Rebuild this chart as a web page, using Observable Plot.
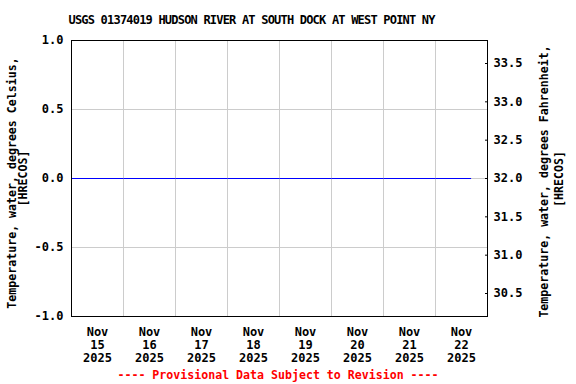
<!DOCTYPE html>
<html>
<head>
<meta charset="utf-8">
<script src="https://cdn.jsdelivr.net/npm/d3@7"></script>
<script src="https://cdn.jsdelivr.net/npm/@observablehq/plot@0.6"></script>
<style>
  html, body { margin: 0; padding: 0; background: #fff; }
  svg text { font-family: "DejaVu Sans Mono", monospace; font-weight: bold; }
</style>
</head>
<body>
<div id="chart"></div>
<script>
// ---- data ----
const title = "USGS 01374019 HUDSON RIVER AT SOUTH DOCK AT WEST POINT NY";
const footer = "---- Provisional Data Subject to Revision ----";
const leftLabel = ["Temperature, water, degrees Celsius,", "[HRECOS]"];
const rightLabel = ["Temperature, water, degrees Fahrenheit,", "[HRECOS]"];

const obsTimes = [
  "2025-11-15T00:00Z", "2025-11-16T00:00Z", "2025-11-17T00:00Z", "2025-11-18T00:00Z",
  "2025-11-19T00:00Z", "2025-11-20T00:00Z", "2025-11-21T00:00Z", "2025-11-22T00:00Z",
  "2025-11-22T16:15Z"
];
const tempC = [0.0, 0.0, 0.0, 0.0, 0.0, 0.0, 0.0, 0.0, 0.0];

const xDomain = ["2025-11-15T00:00Z", "2025-11-23T00:00Z"];
const dayLabelTimes = [
  "2025-11-15T12:00Z", "2025-11-16T12:00Z", "2025-11-17T12:00Z", "2025-11-18T12:00Z",
  "2025-11-19T12:00Z", "2025-11-20T12:00Z", "2025-11-21T12:00Z", "2025-11-22T12:00Z"
];
const dayGridTimes = [
  "2025-11-16T00:00Z", "2025-11-17T00:00Z", "2025-11-18T00:00Z", "2025-11-19T00:00Z",
  "2025-11-20T00:00Z", "2025-11-21T00:00Z", "2025-11-22T00:00Z"
];
const yDomainC = [-1.0, 1.0];
const celsiusTicks = [-1.0, -0.5, 0.0, 0.5, 1.0];
const celsiusGrid = [-0.5, 0.0, 0.5];
const fahrenheitTicks = [30.5, 31.0, 31.5, 32.0, 32.5, 33.0, 33.5];

// ---- build ----
const data = obsTimes.map((t, i) => ({date: new Date(t), c: tempC[i]}));
const toC = f => (f - 32) / 1.8;
const toF = c => c * 1.8 + 32;
const months = ["Jan","Feb","Mar","Apr","May","Jun","Jul","Aug","Sep","Oct","Nov","Dec"];
const fmtDay = d => `${months[d.getUTCMonth()]}\n${d.getUTCDate()}\n${d.getUTCFullYear()}`;

const W = 576, H = 384;
const mL = 71, mR = 89, mT = 40, mB = 68;

const chart = Plot.plot({
  width: W,
  height: H,
  marginLeft: mL,
  marginRight: mR,
  marginTop: mT,
  marginBottom: mB,
  style: {fontFamily: "DejaVu Sans Mono", fontSize: "12px", fontWeight: "bold", color: "black", background: "white"},
  x: {type: "utc", domain: xDomain.map(d => new Date(d))},
  y: {domain: yDomainC},
  marks: [
    Plot.gridX(dayGridTimes.map(d => new Date(d)), {stroke: "#cccccc", strokeOpacity: 1}),
    Plot.gridY(celsiusGrid, {stroke: "#cccccc", strokeOpacity: 1}),
    Plot.lineY(data, {x: "date", y: "c", stroke: "#0000ff", strokeWidth: 1}),
    Plot.frame({stroke: "black"}),
    Plot.axisY({ticks: celsiusTicks, tickFormat: d => d.toFixed(1), tickSize: 0, tickPadding: 8, label: null}),
    Plot.axisY({anchor: "right", ticks: fahrenheitTicks.map(toC), tickFormat: d => toF(d).toFixed(1), tickSize: -3, tickPadding: 9, label: null}),
    Plot.axisX({ticks: dayLabelTimes.map(d => new Date(d)), tickFormat: fmtDay, tickSize: 0, tickPadding: 10, lineHeight: 13 / 12, label: null})
  ]
});

const svg = d3.select(chart);
svg.append("text")
  .attr("x", 251.6).attr("y", 24)
  .attr("text-anchor", "middle")
  .style("font-size", "12px").style("letter-spacing", "-0.8px")
  .attr("fill", "black")
  .text(title);

svg.append("text")
  .attr("x", 278).attr("y", 379)
  .attr("text-anchor", "middle")
  .style("font-size", "11.6px")
  .attr("fill", "#ff0000")
  .text(footer);

const addRot = (txt, x, y) => svg.append("text")
  .attr("transform", `translate(${x},${y}) rotate(-90)`)
  .attr("text-anchor", "middle")
  .style("font-size", "11.6px")
  .attr("fill", "black")
  .text(txt);
addRot(leftLabel[0], 15.5, 183);
addRot(leftLabel[1], 27, 178.5);
addRot(rightLabel[0], 547.5, 181.5);
addRot(rightLabel[1], 563, 179);

document.getElementById("chart").appendChild(chart);
</script>
</body>
</html>
